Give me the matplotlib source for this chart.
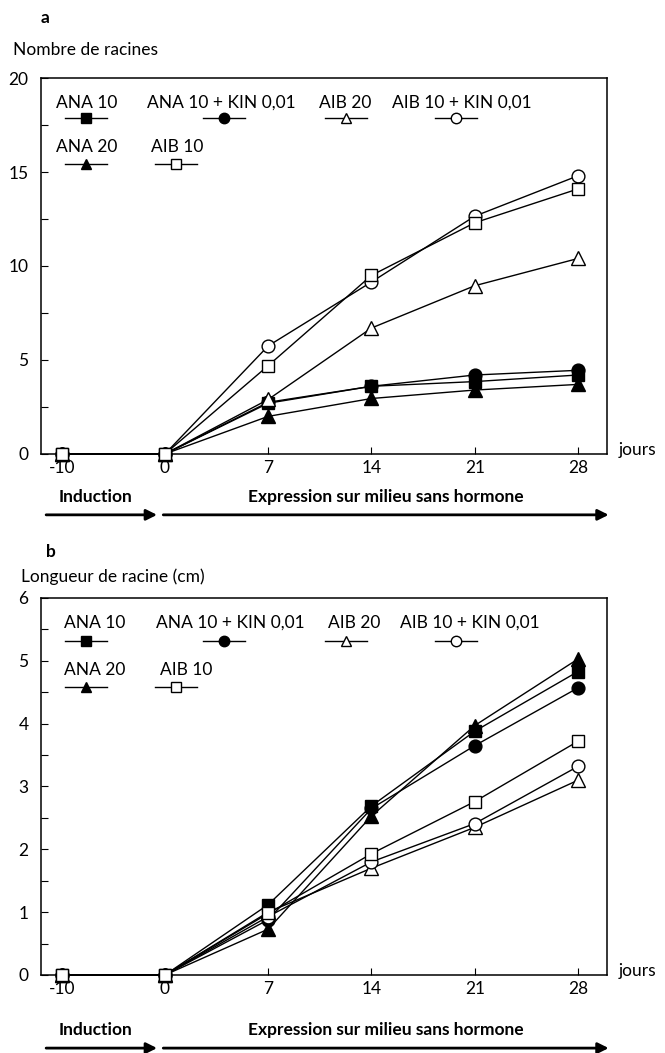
import numpy as np
import matplotlib
matplotlib.use('Agg')
import matplotlib.pyplot as plt

plt.rcParams['font.family'] = ['Lato', 'DejaVu Sans']

days = ['-10', '0', '7', '14', '21', '28']

# a : nombre de racines
a_ana10 = [0, 0, 2.7, 3.6, 3.85, 4.2]
a_ana10_kin = [0, 0, 2.75, 3.6, 4.2, 4.45]
a_aib20 = [0, 0, 2.9, 6.7, 8.95, 10.4]
a_aib10_kin = [0, 0, 5.75, 9.15, 12.65, 14.8]
a_ana20 = [0, 0, 2.0, 2.95, 3.4, 3.7]
a_aib10 = [0, 0, 4.7, 9.5, 12.3, 14.1]

# b : longueur de racine (cm)
b_ana10 = [0, 0, 1.12, 2.69, 3.88, 4.83]
b_ana10_kin = [0, 0, 0.88, 2.65, 3.65, 4.57]
b_aib20 = [0, 0, 1.0, 1.7, 2.35, 3.1]
b_aib10_kin = [0, 0, 0.93, 1.8, 2.41, 3.32]
b_ana20 = [0, 0, 0.73, 2.53, 3.97, 5.03]
b_aib10 = [0, 0, 0.98, 1.93, 2.76, 3.72]

labels = ['ANA 10', 'ANA 10 + KIN 0,01', 'AIB 20', 'AIB 10 + KIN 0,01', 'ANA 20', 'AIB 10']
markers = ['s', 'o', '^', 'o', '^', 's']
filled = [True, True, False, False, True, False]

# legend layout (axes fraction): text x, marker x, row
leg_a = [(0.080, 0.080, 0), (0.319, 0.323, 0), (0.537, 0.539, 0), (0.744, 0.733, 0),
         (0.080, 0.080, 1), (0.240, 0.238, 1)]
leg_b = [(0.095, 0.080, 0), (0.334, 0.323, 0), (0.553, 0.539, 0), (0.758, 0.733, 0),
         (0.095, 0.080, 1), (0.256, 0.238, 1)]

fig = plt.figure(figsize=(6.65, 10.53), dpi=100)
ax_a = fig.add_axes([0.0617, 0.5689, 0.851, 0.357])
ax_b = fig.add_axes([0.0617, 0.0741, 0.851, 0.358])

x = np.arange(len(days))
fs = 12.5
msize = {'s': 9.2, 'o': 9.2, '^': 9.8}


def draw(ax, series, ymax, major, minor, leg, rows_y, arrow_y, text_y):
    for vals, m, f in zip(series, markers, filled):
        ax.plot(x, vals, color='black', lw=1.0, marker=m, markersize=msize[m],
                markerfacecolor='black' if f else 'white', markeredgecolor='black',
                markeredgewidth=1.0, zorder=3 if f else 4, clip_on=False)
    ax.set_xlim(-0.2, 5.28)
    ax.set_ylim(0, ymax)
    ax.set_xticks(x)
    ax.set_xticklabels(days)
    ax.set_yticks(np.arange(0, ymax + 0.01, major))
    ax.set_yticks(np.arange(0, ymax + 0.01, minor), minor=True)
    ax.set_yticklabels([f'{v:g}' for v in np.arange(0, ymax + 0.01, major)])
    ax.tick_params(axis='both', direction='in', length=5, width=0.8, labelsize=fs)
    ax.tick_params(axis='y', which='minor', direction='in', length=5, width=0.8)
    ax.tick_params(axis='y', pad=9)
    ax.tick_params(axis='x', pad=4)
    for s in ax.spines.values():
        s.set_linewidth(1.1)
    # legend drawn as text + marker
    for lab, m, f, (tx, mx, row) in zip(labels, markers, filled, leg):
        ty, my = rows_y[row]
        ax.text(tx, ty, lab, transform=ax.transAxes, ha='center', va='center', fontsize=fs)
        ax.plot([mx - 0.037, mx + 0.037], [my, my], transform=ax.transAxes, color='black', lw=1.0)
        ax.plot([mx], [my], transform=ax.transAxes, marker=m, markersize=7.5,
                markerfacecolor='black' if f else 'white', markeredgecolor='black',
                markeredgewidth=1.0, linestyle='none')
    ax.text(1.02, 0.01, 'jours', transform=ax.transAxes, ha='left', va='center', fontsize=fs)
    ax.text(0.097, text_y, 'Induction', transform=ax.transAxes, ha='center', va='center',
            fontsize=fs, fontweight='bold')
    ax.text(0.61, text_y, 'Expression sur milieu sans hormone', transform=ax.transAxes,
            ha='center', va='center', fontsize=fs, fontweight='bold')
    arrow = dict(arrowstyle='-|>', lw=2.0, color='black', mutation_scale=16, shrinkA=0, shrinkB=0)
    ax.annotate('', xy=(0.205, arrow_y), xytext=(0.009, arrow_y), xycoords='axes fraction',
                textcoords='axes fraction', arrowprops=arrow, annotation_clip=False)
    ax.annotate('', xy=(1.003, arrow_y), xytext=(0.216, arrow_y), xycoords='axes fraction',
                textcoords='axes fraction', arrowprops=arrow, annotation_clip=False)


draw(ax_a, [a_ana10, a_ana10_kin, a_aib20, a_aib10_kin, a_ana20, a_aib10], 20, 5, 2.5,
     leg_a, [(0.934, 0.894), (0.816, 0.771)], -0.162, -0.114)
draw(ax_b, [b_ana10, b_ana10_kin, b_aib20, b_aib10_kin, b_ana20, b_aib10], 6, 1, 0.5,
     leg_b, [(0.934, 0.886), (0.809, 0.764)], -0.194, -0.146)

fig.text(45 / 665, 1 - 18 / 1053, 'a', ha='center', va='center', fontsize=fs, fontweight='bold')
fig.text(13 / 665, 1 - 50 / 1053, 'Nombre de racines', ha='left', va='center', fontsize=fs)
fig.text(51 / 665, 1 - 552 / 1053, 'b', ha='center', va='center', fontsize=fs, fontweight='bold')
fig.text(21 / 665, 1 - 577 / 1053, 'Longueur de racine (cm)', ha='left', va='center', fontsize=fs)

fig.savefig('out.png', dpi=100, facecolor='white')
